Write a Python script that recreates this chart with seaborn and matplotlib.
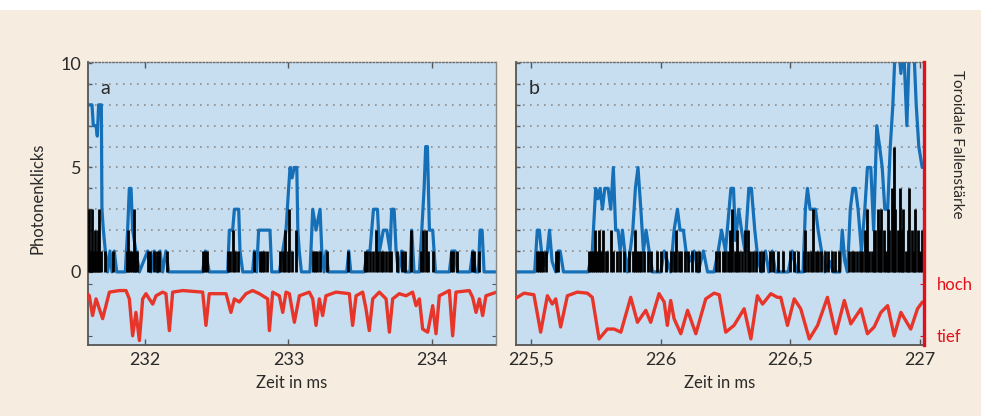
import seaborn as sns
import matplotlib
matplotlib.use('Agg')
import matplotlib.pyplot as plt
from matplotlib.patches import Rectangle

# ---------------- data ----------------
# photon clicks per time bin: (time in ms, clicks)
clicks_a = [(231.612, 3), (231.622, 1), (231.631, 3), (231.640, 1), (231.652, 2), (231.661, 1),
            (231.673, 2), (231.682, 3), (231.691, 1), (231.721, 1), (231.775, 1), (231.872, 1),
            (231.884, 2), (231.896, 1), (231.907, 1), (231.921, 3), (231.933, 1), (231.944, 1),
            (232.023, 1), (232.037, 1), (232.065, 1), (232.081, 1), (232.100, 1), (232.151, 1),
            (232.407, 1), (232.421, 1), (232.435, 1), (232.581, 1), (232.595, 1), (232.611, 2),
            (232.627, 1), (232.646, 1), (232.762, 1), (232.802, 1), (232.816, 1), (232.832, 1),
            (232.848, 1), (232.941, 1), (232.960, 1), (232.978, 2), (232.997, 1), (233.005, 3),
            (233.023, 1), (233.053, 2), (233.169, 1), (233.185, 1), (233.202, 1), (233.220, 1),
            (233.267, 1), (233.418, 1), (233.534, 1), (233.550, 1), (233.568, 1), (233.587, 1),
            (233.610, 2), (233.627, 1), (233.643, 1), (233.661, 1), (233.680, 1), (233.699, 1),
            (233.717, 1), (233.759, 1), (233.789, 1), (233.812, 1), (233.852, 2), (233.922, 1),
            (233.940, 2), (233.956, 2), (233.973, 1), (234.010, 1), (234.131, 1), (234.149, 1),
            (234.172, 1), (234.277, 1), (234.293, 1), (234.330, 1)]

clicks_b = [(225.523, 1), (225.530, 1), (225.538, 1), (225.548, 1), (225.559, 1), (225.597, 1),
            (225.605, 1), (225.726, 1), (225.733, 1), (225.741, 1), (225.749, 2), (225.757, 1),
            (225.764, 2), (225.772, 1), (225.780, 2), (225.788, 1), (225.795, 1), (225.808, 2),
            (225.818, 1), (225.834, 1), (225.844, 1), (225.859, 1), (225.879, 1), (225.895, 1),
            (225.903, 2), (225.911, 1), (225.918, 1), (225.926, 1), (225.937, 1), (225.952, 1),
            (225.965, 1), (225.988, 1), (226.001, 1), (226.020, 1), (226.039, 1), (226.050, 1),
            (226.060, 2), (226.070, 1), (226.080, 1), (226.093, 1), (226.106, 1), (226.123, 1),
            (226.136, 1), (226.150, 1), (226.213, 1), (226.226, 1), (226.239, 1), (226.247, 1),
            (226.258, 1), (226.267, 2), (226.276, 3), (226.286, 1), (226.294, 2), (226.304, 1),
            (226.314, 1), (226.325, 2), (226.335, 2), (226.345, 1), (226.355, 1), (226.366, 1),
            (226.382, 1), (226.395, 1), (226.421, 1), (226.434, 1), (226.453, 1), (226.472, 1),
            (226.498, 1), (226.515, 1), (226.530, 1), (226.553, 1), (226.558, 2), (226.569, 1),
            (226.579, 1), (226.588, 3), (226.597, 1), (226.607, 1), (226.620, 1), (226.633, 1),
            (226.646, 1), (226.659, 1), (226.671, 1), (226.687, 1), (226.725, 1), (226.736, 1),
            (226.746, 1), (226.756, 1), (226.767, 1), (226.777, 1), (226.787, 2), (226.795, 3),
            (226.803, 1), (226.813, 1), (226.821, 2), (226.828, 2), (226.836, 3), (226.844, 2),
            (226.851, 3), (226.859, 2), (226.867, 1), (226.875, 3), (226.882, 2), (226.890, 4),
            (226.898, 6), (226.905, 3), (226.913, 2), (226.921, 4), (226.929, 2), (226.936, 3),
            (226.944, 1), (226.952, 2), (226.959, 4), (226.967, 2), (226.975, 1), (226.982, 3),
            (226.990, 2), (226.998, 1), (227.006, 2)]

# smoothed click trace (blue)
trace_a = [(231.603, 8), (231.631, 8), (231.640, 7), (231.659, 7), (231.668, 6.5), (231.677, 8),
           (231.696, 8), (231.700, 3), (231.710, 2), (231.724, 1), (231.740, 0), (231.756, 1),
           (231.770, 0), (231.786, 1), (231.803, 0), (231.863, 0), (231.879, 2), (231.891, 4),
           (231.903, 4), (231.914, 2), (231.937, 1), (231.961, 0), (232.019, 1), (232.042, 0),
           (232.065, 1), (232.088, 0), (232.105, 1), (232.123, 0), (232.146, 1), (232.165, 0),
           (232.402, 0), (232.421, 1), (232.448, 0), (232.576, 0), (232.588, 2), (232.611, 2),
           (232.623, 3), (232.653, 3), (232.662, 1), (232.681, 0), (232.750, 0), (232.762, 1),
           (232.778, 0), (232.792, 2), (232.871, 2), (232.883, 0), (232.936, 0), (232.960, 1),
           (232.983, 2), (233.001, 4), (233.011, 5), (233.025, 4.5), (233.040, 5), (233.058, 5),
           (233.065, 2), (233.075, 1), (233.090, 0), (233.150, 0), (233.169, 3), (233.192, 2),
           (233.220, 3), (233.232, 1), (233.248, 0), (233.262, 1), (233.278, 0), (233.406, 0),
           (233.420, 1), (233.434, 0), (233.527, 0), (233.550, 1), (233.568, 1), (233.592, 3),
           (233.620, 3), (233.634, 1), (233.661, 2), (233.685, 2), (233.708, 1), (233.719, 3),
           (233.736, 3), (233.750, 1), (233.766, 0), (233.789, 1), (233.812, 0), (233.847, 0),
           (233.859, 2), (233.875, 0), (233.912, 0), (233.929, 2), (233.945, 4), (233.956, 6),
           (233.968, 6), (233.982, 2), (234.005, 2), (234.024, 0), (234.121, 0), (234.138, 1),
           (234.161, 1), (234.177, 0), (234.265, 0), (234.284, 1), (234.303, 0), (234.323, 0),
           (234.335, 2), (234.349, 2), (234.363, 0), (234.450, 0)]

trace_b = [(225.435, 0), (225.515, 0), (225.525, 2), (225.533, 2), (225.541, 1), (225.551, 0.3),
           (225.564, 1), (225.572, 2), (225.582, 0.5), (225.596, 0), (225.605, 1), (225.613, 1),
           (225.626, 0), (225.721, 0), (225.737, 1), (225.750, 4), (225.759, 3.5), (225.767, 4),
           (225.776, 3), (225.785, 4), (225.798, 4), (225.808, 3), (225.818, 5), (225.827, 2),
           (225.836, 2), (225.844, 1), (225.853, 2), (225.862, 1), (225.872, 0), (225.883, 1),
           (225.893, 2), (225.903, 4), (225.913, 5), (225.924, 3), (225.934, 1), (225.944, 2),
           (225.956, 1), (225.969, 0), (226.001, 0), (226.014, 1), (226.039, 0), (226.052, 2),
           (226.065, 3), (226.075, 2), (226.088, 2), (226.098, 1), (226.111, 0.5), (226.129, 1),
           (226.145, 0), (226.165, 1), (226.181, 0), (226.206, 0), (226.222, 1), (226.235, 2),
           (226.250, 1), (226.271, 4), (226.281, 4), (226.289, 1.5), (226.301, 3), (226.312, 2),
           (226.325, 1), (226.340, 4), (226.350, 4), (226.363, 2), (226.376, 0.5), (226.389, 0),
           (226.404, 1), (226.417, 0), (226.430, 1), (226.443, 0), (226.492, 0), (226.507, 1),
           (226.524, 0), (226.549, 0), (226.558, 3), (226.566, 4), (226.576, 3), (226.587, 3),
           (226.597, 3), (226.607, 2), (226.620, 1), (226.633, 0), (226.652, 0.5), (226.665, 0),
           (226.691, 0), (226.700, 2), (226.710, 0.5), (226.720, 0), (226.731, 3), (226.741, 4),
           (226.751, 4), (226.761, 3), (226.774, 1), (226.787, 3), (226.797, 5), (226.810, 5),
           (226.821, 2), (226.833, 7), (226.844, 6), (226.854, 5), (226.864, 3), (226.875, 3),
           (226.885, 6), (226.895, 8), (226.905, 11), (226.916, 11), (226.926, 9.5), (226.936, 11),
           (226.949, 7), (226.959, 11), (226.975, 11), (226.985, 8), (226.995, 6), (227.008, 5)]

# toroidal trap strength (red), 1 = hoch, 0 = tief
trap_a = [(231.603, 0.80), (231.612, 0.77), (231.635, 0.39), (231.659, 0.71), (231.682, 0.52),
          (231.705, 0.33), (231.728, 0.58), (231.752, 0.84), (231.821, 0.87), (231.868, 0.87),
          (231.891, 0.71), (231.914, 0.00), (231.937, 0.45), (231.961, -0.09), (231.984, 0.71),
          (232.007, 0.81), (232.030, 0.71), (232.054, 0.61), (232.077, 0.77), (232.123, 0.84),
          (232.146, 0.81), (232.170, 0.10), (232.193, 0.84), (232.263, 0.87), (232.356, 0.85),
          (232.402, 0.84), (232.425, 0.20), (232.448, 0.81), (232.565, 0.81), (232.599, 0.45),
          (232.623, 0.71), (232.657, 0.65), (232.704, 0.81), (232.750, 0.87), (232.797, 0.81),
          (232.855, 0.71), (232.867, 0.10), (232.890, 0.84), (232.936, 0.77), (232.960, 0.45),
          (232.983, 0.84), (233.006, 0.81), (233.041, 0.26), (233.076, 0.77), (233.145, 0.84),
          (233.169, 0.71), (233.192, 0.20), (233.215, 0.71), (233.238, 0.39), (233.261, 0.77),
          (233.331, 0.84), (233.424, 0.81), (233.447, 0.20), (233.471, 0.77), (233.517, 0.84),
          (233.540, 0.52), (233.563, 0.10), (233.587, 0.71), (233.633, 0.84), (233.680, 0.71),
          (233.703, 0.07), (233.726, 0.71), (233.772, 0.81), (233.819, 0.77), (233.865, 0.84),
          (233.889, 0.58), (233.912, 0.71), (233.935, 0.13), (233.970, 0.07), (234.005, 0.58),
          (234.028, 0.04), (234.051, 0.77), (234.121, 0.87), (234.144, 0.00), (234.167, 0.84),
          (234.260, 0.87), (234.283, 0.74), (234.307, 0.45), (234.330, 0.71), (234.353, 0.39),
          (234.376, 0.77), (234.450, 0.84)]

trap_b = [(225.443, 0.72), (225.448, 0.74), (225.474, 0.82), (225.512, 0.79), (225.538, 0.07),
          (225.564, 0.77), (225.583, 0.61), (225.596, 0.71), (225.615, 0.17), (225.641, 0.77),
          (225.679, 0.84), (225.718, 0.82), (225.737, 0.74), (225.763, -0.06), (225.795, 0.13),
          (225.821, 0.13), (225.847, 0.07), (225.885, 0.74), (225.911, 0.26), (225.943, 0.49),
          (225.962, 0.26), (225.994, 0.81), (226.014, 0.65), (226.026, 0.20), (226.039, 0.68),
          (226.052, 0.33), (226.078, 0.04), (226.104, 0.49), (226.136, 0.04), (226.174, 0.71),
          (226.206, 0.82), (226.226, 0.79), (226.251, 0.07), (226.283, 0.20), (226.322, 0.52),
          (226.348, -0.06), (226.373, 0.77), (226.393, 0.61), (226.425, 0.81), (226.450, 0.74),
          (226.463, 0.74), (226.489, 0.20), (226.515, 0.71), (226.540, 0.52), (226.573, -0.06),
          (226.605, 0.20), (226.643, 0.74), (226.675, 0.04), (226.708, 0.68), (226.733, 0.23),
          (226.772, 0.52), (226.797, 0.04), (226.823, 0.17), (226.849, 0.45), (226.875, 0.58),
          (226.900, 0.00), (226.926, 0.45), (226.964, 0.13), (226.990, 0.52), (227.009, 0.65)]

xticks_a = [232, 233, 234]
xticklabels_a = ['232', '233', '234']
xticks_b = [225.5, 226, 226.5, 227]
xticklabels_b = ['225,5', '226', '226,5', '227']
yticks = list(range(0, 11))
yticklabels = ['0', '', '', '', '', '5', '', '', '', '', '10']
grid_levels = list(range(1, 10))
trap_levels = [0, 1]
trap_labels = ['tief', 'hoch']

# ---------------- style ----------------
CREAM = '#f6ecdf'
PANEL = '#c7def1'
BLUE = '#1670b8'
RED = '#e8352a'
AXRED = '#e30f1b'
TXT = '#2a2a2a'
SPINE = '#555555'

sns.set_style('ticks')
plt.rcParams['font.family'] = ['Lato', 'DejaVu Sans']
plt.rcParams['text.color'] = TXT
plt.rcParams['axes.labelcolor'] = TXT
plt.rcParams['xtick.color'] = SPINE
plt.rcParams['ytick.color'] = SPINE
plt.rcParams['xtick.labelcolor'] = TXT
plt.rcParams['ytick.labelcolor'] = TXT

W, H = 981, 416
fig = plt.figure(figsize=(W / 100, H / 100), dpi=100, facecolor='white')
fig.add_artist(Rectangle((0, 0), 1, 1 - 10 / H, transform=fig.transFigure,
                         facecolor=CREAM, edgecolor='none', zorder=-5))

ax_a = fig.add_axes([88 / W, 1 - 345 / H, 408 / W, 283 / H])
ax_b = fig.add_axes([516 / W, 1 - 345 / H, 408 / W, 283 / H])

YLIM = (-3.5, 10.05)
TIEF_Y, HOCH_Y = -3.06, -0.57   # where the trap axis "tief"/"hoch" sit on the click axis


def draw_panel(ax, clicks, trace, trap, xlim, xticks, xticklabels, letter, last):
    ax.set_facecolor(PANEL)
    for lv in grid_levels:
        ax.axhline(lv, color='#8c8c8c', lw=1.2, ls=(0, (1, 3.2)), zorder=1)

    sns.lineplot(x=[p[0] for p in trace], y=[p[1] for p in trace], ax=ax, color=BLUE,
                 lw=2.3, estimator=None, sort=False, zorder=2)
    ax.vlines([c[0] for c in clicks], 0, [c[1] for c in clicks], color='black',
              lw=2.0, zorder=3)

    ax.set_xlim(*xlim)
    ax.set_ylim(*YLIM)
    ax.set_xticks(xticks)
    ax.set_xticklabels(xticklabels)
    ax.set_yticks(yticks)
    if letter == 'a':
        ax.set_yticklabels(yticklabels)
        ax.set_ylabel('Photonenklicks', fontsize=12)
        ax.yaxis.set_label_coords(-0.105, 0.52)
    else:
        ax.set_yticklabels([])
    ax.set_xlabel('Zeit in ms', fontsize=12, labelpad=5)
    ax.tick_params(axis='both', direction='in', length=3, width=1, labelsize=13, pad=5,
                   top=True)
    ax.tick_params(axis='x', length=4)

    for side in ['left', 'bottom']:
        ax.spines[side].set_color(SPINE)
        ax.spines[side].set_linewidth(1.3)
    ax.spines['top'].set_color('#6a6a6a')
    ax.spines['top'].set_linewidth(1.0)
    ax.spines['top'].set_linestyle((0, (1, 1.5)))
    ax.spines['right'].set_visible(False)

    ax.text(0.03, 0.905, letter, transform=ax.transAxes, fontsize=14, color=TXT,
            ha='left', va='center')

    # trap strength on its own axis, aligned so that tief/hoch fall at fixed heights
    ax2 = ax.twinx()
    sns.lineplot(x=[p[0] for p in trap], y=[p[1] for p in trap], ax=ax2, color=RED,
                 lw=2.4, estimator=None, sort=False)
    span = HOCH_Y - TIEF_Y
    ax2.set_ylim((YLIM[0] - TIEF_Y) / span, (YLIM[1] - TIEF_Y) / span)
    ax2.set_xlim(*xlim)
    ax2.set_yticks(trap_levels)
    ax2.set_ylabel('')
    for side in ['left', 'top', 'bottom']:
        ax2.spines[side].set_visible(False)
    if last:
        ax2.set_yticklabels(trap_labels)
        ax2.tick_params(axis='y', direction='in', length=3, colors=AXRED, labelsize=12,
                        pad=9, left=False, right=True, labelcolor=AXRED)
        ax2.spines['right'].set_color(AXRED)
        ax2.spines['right'].set_linewidth(2.4)
    else:
        ax2.set_yticklabels([])
        ax2.tick_params(axis='y', direction='in', length=3, colors=SPINE, left=True,
                        right=True)
        ax2.spines['right'].set_color('#8a8a8a')
        ax2.spines['right'].set_linewidth(1.0)
    return ax2


draw_panel(ax_a, clicks_a, trace_a, trap_a, (231.603, 234.446), xticks_a, xticklabels_a,
           'a', False)
draw_panel(ax_b, clicks_b, trace_b, trap_b, (225.443, 227.015), xticks_b, xticklabels_b,
           'b', True)

fig.text(957 / W, 1 - 144 / H, 'Toroidale Fallenstärke', rotation=-90, fontsize=11,
         color=TXT, ha='center', va='center')

fig.savefig('out.png', dpi=100, facecolor=fig.get_facecolor())
